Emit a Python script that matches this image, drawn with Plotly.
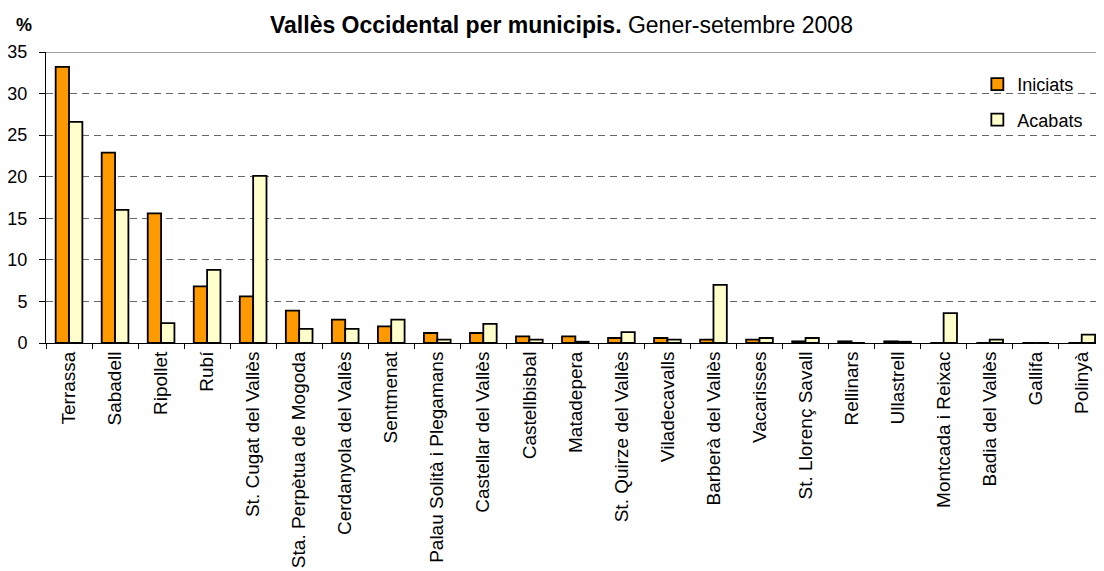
import plotly.graph_objects as go

municipis = ["Terrassa", "Sabadell", "Ripollet", "Rubí", "St. Cugat del Vallès",
             "Sta. Perpètua de Mogoda", "Cerdanyola del Vallès", "Sentmenat",
             "Palau Solità i Plegamans", "Castellar del Vallès", "Castellbisbal",
             "Matadepera", "St. Quirze del Vallès", "Viladecavalls", "Barberà del Vallès",
             "Vacarisses", "St. Llorenç Savall", "Rellinars", "Ullastrell",
             "Montcada i Reixac", "Badia del Vallès", "Gallifa", "Polinyà"]
iniciats = [33.2, 22.9, 15.6, 6.8, 5.6, 3.9, 2.8, 2.0, 1.2, 1.2, 0.8, 0.8, 0.6, 0.6,
            0.4, 0.4, 0.2, 0.2, 0.2, 0.0, 0.0, 0.0, 0.0]
acabats = [26.6, 16.0, 2.4, 8.8, 20.1, 1.7, 1.7, 2.8, 0.4, 2.3, 0.4, 0.15, 1.3, 0.4,
           7.0, 0.6, 0.6, 0.0, 0.15, 3.6, 0.4, 0.0, 1.0]
y_ticks = [0, 5, 10, 15, 20, 25, 30, 35]

FONT = "Liberation Sans, Arial, sans-serif"

fig = go.Figure()
fig.add_trace(go.Bar(x=municipis, y=iniciats, name="Iniciats", legendgroup="a",
                     marker=dict(color="#FF9900", line=dict(color="#000000", width=1.8))))
fig.add_trace(go.Bar(x=municipis, y=acabats, name="Acabats", legendgroup="b",
                     marker=dict(color="#FFFFCC", line=dict(color="#000000", width=1.8))))

fig.update_layout(
    width=1088, height=563,
    margin=dict(l=38, r=0, t=44, b=228, autoexpand=False),
    paper_bgcolor="white", plot_bgcolor="white",
    barmode="group", bargap=0.42, bargroupgap=0,
    font=dict(family=FONT, size=18, color="#000000"),
    showlegend=True,
    legend=dict(x=0.887, y=0.952, xanchor="left", yanchor="top",
                font=dict(size=18, family=FONT), bgcolor="rgba(0,0,0,0)",
                traceorder="grouped", tracegroupgap=9, itemwidth=30),
    xaxis=dict(range=[-0.5, 22.31], showline=True, linecolor="#000000", linewidth=1,
               ticks="outside", tickson="boundaries", ticklen=5, tickcolor="#000000",
               tickangle=-90, tickfont=dict(size=19, family=FONT), showgrid=False,
               automargin=False),
    yaxis=dict(range=[0, 35], tickvals=y_ticks, showline=True, linecolor="#000000",
               linewidth=1, ticks="outside", ticklen=6, tickcolor="#000000",
               ticklabelstandoff=8, automargin=False,
               tickfont=dict(size=18, family=FONT), showgrid=True, gridcolor="#666666",
               griddash="7px,5px", gridwidth=1, zeroline=False),
    annotations=[
        dict(text="<b>Vallès Occidental per municipis.</b> Gener-setembre 2008",
             xref="paper", yref="paper", x=0.491, y=1.0, yshift=27, xanchor="center",
             yanchor="middle", showarrow=False, font=dict(size=23, family=FONT)),
        dict(text="<b>%</b>", xref="paper", yref="paper", x=-0.0305, y=1.0, yshift=27,
             xanchor="left", yanchor="middle", showarrow=False,
             font=dict(size=18, family=FONT)),
    ],
    shapes=[dict(type="line", xref="paper", yref="y", x0=0, x1=1, y0=35, y1=35,
                 line=dict(color="#808080", width=1.5))],
)

fig.write_html("out.html")
